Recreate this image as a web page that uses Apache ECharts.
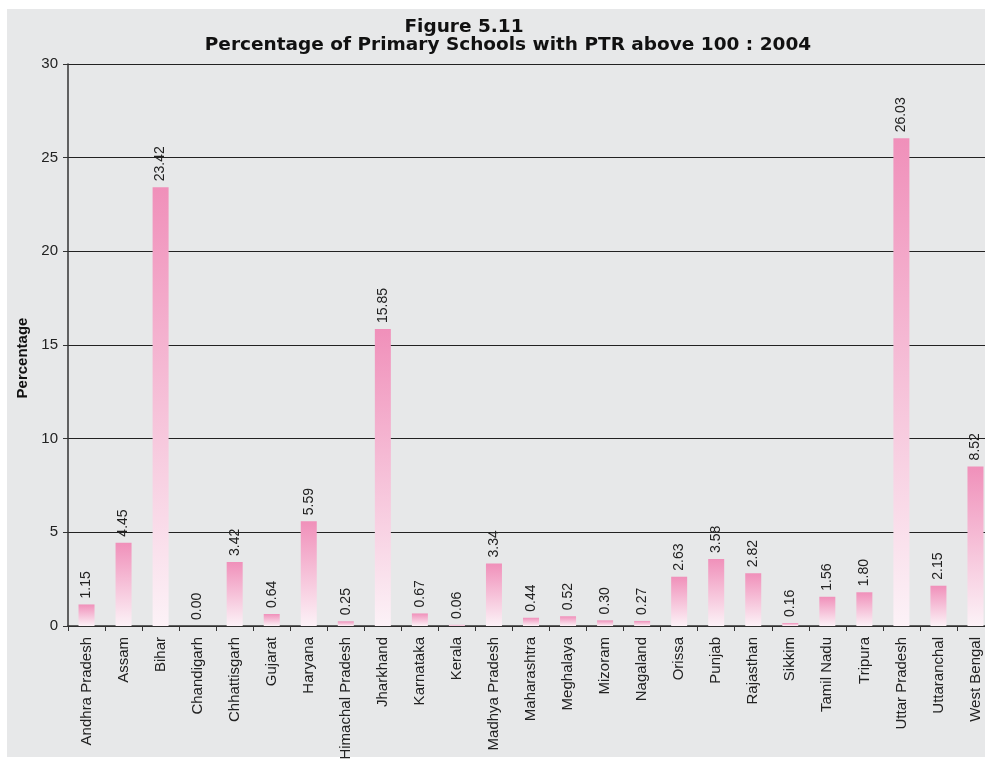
<!DOCTYPE html>
<html>
<head>
<meta charset="utf-8">
<script src="https://cdn.jsdelivr.net/npm/echarts@6/dist/echarts.min.js"></script>
<style>
  html, body { margin: 0; padding: 0; background: #fff; }
  #main { width: 985px; height: 759px; }
</style>
</head>
<body>
<div id="main"></div>
<script>
var myChart = echarts.init(document.getElementById('main'));

// States and share of primary schools with PTR above 100 (2004)
const states = ['Andhra Pradesh', 'Assam', 'Bihar', 'Chandigarh', 'Chhattisgarh', 'Gujarat', 'Haryana',
  'Himachal Pradesh', 'Jharkhand', 'Karnataka', 'Kerala', 'Madhya Pradesh', 'Maharashtra', 'Meghalaya',
  'Mizoram', 'Nagaland', 'Orissa', 'Punjab', 'Rajasthan', 'Sikkim', 'Tamil Nadu', 'Tripura',
  'Uttar Pradesh', 'Uttaranchal', 'West Bengal'];
const percentage = [1.15, 4.45, 23.42, 0.00, 3.42, 0.64, 5.59, 0.25, 15.85, 0.67, 0.06, 3.34, 0.44, 0.52,
  0.30, 0.27, 2.63, 3.58, 2.82, 0.16, 1.56, 1.80, 26.03, 2.15, 8.52];

var font = '"Liberation Sans", Arial, sans-serif';
var titleFont = '"DejaVu Sans", sans-serif';

var option = {
    backgroundColor: '#ffffff',
    animation: false,
    graphic: [{
        type: 'rect',
        z: -10,
        silent: true,
        shape: { x: 7, y: 9, width: 990, height: 748 },
        style: { fill: '#e7e8e9' }
    }],
    title: [
        {
            text: 'Figure 5.11',
            left: 459,
            top: 13,
            textAlign: 'center',
            textStyle: { fontFamily: titleFont, fontSize: 18.5, fontWeight: 'bold', color: '#111' }
        },
        {
            text: 'Percentage of Primary Schools with PTR above 100 : 2004',
            left: 503,
            top: 31,
            textAlign: 'center',
            textStyle: { fontFamily: titleFont, fontSize: 18.5, fontWeight: 'bold', color: '#111' }
        }
    ],
    grid: {
        left: 68,
        top: 64,
        width: 926,
        bottom: 133,
        containLabel: false,
        outerBoundsMode: 'none'
    },
    xAxis: {
        type: 'category',
        data: states,
        axisLine: { lineStyle: { color: '#333', width: 1.5 } },
        axisTick: { show: true, length: 5, lineStyle: { color: '#333' } },
        axisLabel: {
            rotate: 90,
            interval: 0,
            margin: 11,
            fontFamily: font,
            fontSize: 15,
            color: '#222'
        }
    },
    yAxis: {
        type: 'value',
        min: 0,
        max: 30,
        interval: 5,
        name: 'Percentage',
        nameLocation: 'middle',
        nameGap: 37,
        nameTextStyle: {
            fontFamily: font, fontSize: 15, fontWeight: 'bold', color: '#111',
            padding: [0, 26, 0, 0]
        },
        axisLine: { show: true, lineStyle: { color: '#333', width: 1.5 } },
        axisTick: { show: true, length: 5, lineStyle: { color: '#333' } },
        axisLabel: { fontFamily: font, fontSize: 15, color: '#222', margin: 10 },
        splitLine: { lineStyle: { color: '#222', width: 1 } }
    },
    series: [
        {
            name: 'Percentage',
            type: 'bar',
            data: percentage,
            barWidth: 16,
            itemStyle: {
                color: new echarts.graphic.LinearGradient(0, 0, 0, 1, [
                    { offset: 0, color: '#f090ba' },
                    { offset: 1, color: '#fcf2f7' }
                ])
            },
            label: {
                show: true,
                position: 'top',
                rotate: 90,
                align: 'left',
                verticalAlign: 'middle',
                distance: 6,
                formatter: function (p) { return p.value.toFixed(2); },
                fontFamily: font,
                fontSize: 14,
                color: '#222'
            }
        }
    ]
};

myChart.setOption(option);
</script>
</body>
</html>
